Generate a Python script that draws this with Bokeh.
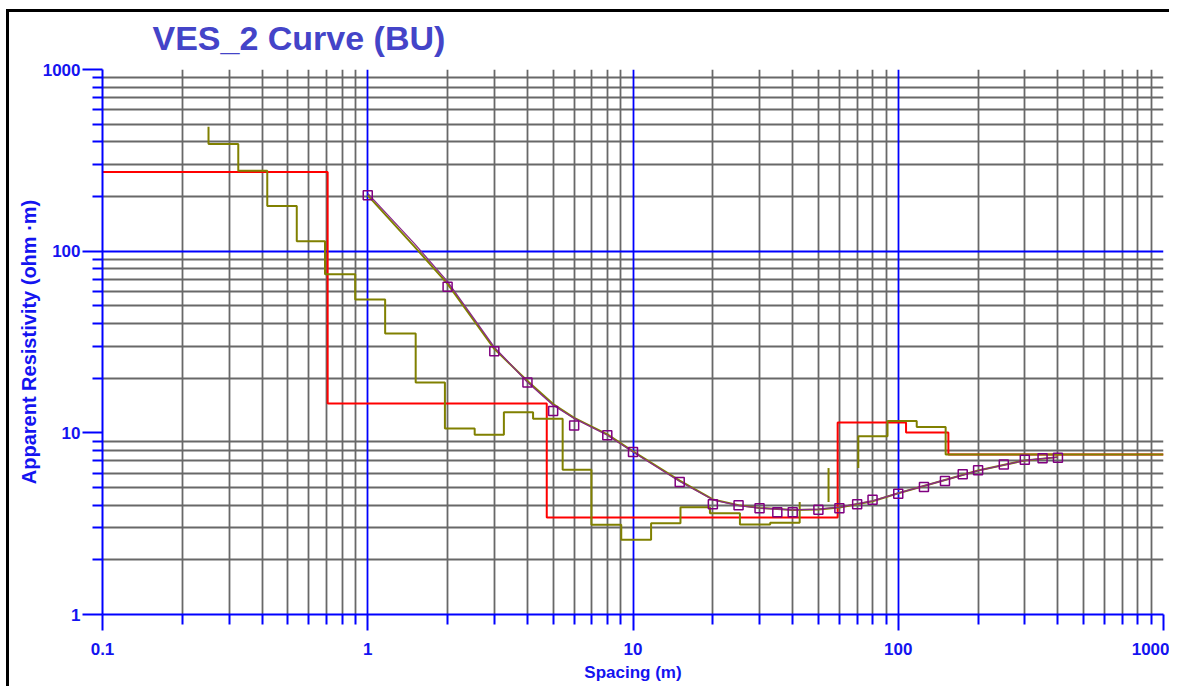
import numpy as np
from bokeh.plotting import figure
from bokeh.layouts import column
from bokeh.models import FixedTicker, Grid, Range1d
from bokeh.embed import file_html
from bokeh.resources import INLINE

TITLE = "VES_2 Curve (BU)"
X_LABEL = "Spacing (m)"
Y_LABEL = "Apparent Resistivity (ohm ·m)"

x_ticks = [0.1, 1, 10, 100, 1000]
x_tick_labels = ["0.1", "1", "10", "100", "1000"]
y_ticks = [1, 10, 100, 1000]
y_tick_labels = ["1", "10", "100", "1000"]

# observed field data (AB/2 spacing, apparent resistivity)
spacing = [1, 2, 3, 4, 5, 6, 8, 10, 15, 20, 25, 30, 35, 40, 50, 60, 70, 80,
           100, 125, 150, 175, 200, 250, 300, 350, 400]
rho_obs = [203, 63.6, 28.1, 18.9, 13.2, 10.96, 9.69, 7.84, 5.36, 4.04, 3.99,
           3.85, 3.66, 3.66, 3.77, 3.84, 4.04, 4.28, 4.62, 5.03, 5.43, 5.91,
           6.22, 6.7, 7.12, 7.25, 7.3]

# calculated (smooth) curves
calc_x = [1, 1.5, 2, 3, 4, 5, 6, 8, 10, 15, 20, 25, 30, 40, 50, 60, 80, 100,
          150, 200, 300, 400]
calc_rho_a = [203, 106, 66, 29, 19.3, 14.4, 12.1, 9.8, 7.9, 5.45, 4.3, 4.0,
              3.86, 3.76, 3.79, 3.88, 4.2, 4.65, 5.5, 6.2, 7.05, 7.35]
calc_rho_b = [208, 110, 68, 29.6, 19.0, 14.2, 12.0, 9.7, 7.85, 5.4, 4.28, 3.98,
              3.85, 3.77, 3.8, 3.9, 4.22, 4.66, 5.5, 6.2, 7.05, 7.35]

# layered model (red)
model_bounds = [0.1, 0.706, 4.73, 59.1, 107, 154.5, 1000]
model_rho = [273, 14.5, 3.42, 11.4, 10.05, 7.61]

# smoothed / multi-layer model (olive)
equiv_bounds = [0.251, 0.325, 0.418, 0.54, 0.69, 0.897, 1.163, 1.516, 1.954,
                2.53, 3.26, 4.20, 5.43, 6.97, 9.03, 11.7, 15.1, 19.5, 25.3,
                32.9, 42.5, 54.6, 70.7, 91.1, 117.4, 150.9, 1000]
equiv_rho = [484, 389, 277, 177, 113.5, 74.7, 54.2, 35.2, 18.9, 10.55, 9.77,
             13.0, 11.97, 6.27, 3.12, 2.58, 3.18, 3.89, 3.61, 3.13, 3.20,
             4.16, 6.4, 9.57, 11.6, 10.76, 7.61]
equiv_hidden_layers = [21, 22]

BLUE = "#0000FF"
TXT_BLUE = "#1414F0"
GRAY = "#686868"
SANS = "Liberation Sans"

p = figure(x_axis_type="log", y_axis_type="log",
           x_range=Range1d(0.1, 1000), y_range=Range1d(1, 1000),
           frame_width=1061, frame_height=545,
           output_backend="svg", toolbar_location=None,
           title=TITLE)
p.min_border = 0
p.min_border_left = 102
p.min_border_right = 6
p.min_border_top = 69
p.min_border_bottom = 72
p.outline_line_color = None
p.background_fill_color = "white"
p.border_fill_color = None

p.title.text_font = SANS
p.title.text_font_size = "34px"
p.title.text_font_style = "bold"
p.title.text_color = "#4444C8"
p.title.align = "left"
p.title.offset = 50
p.title.standoff = 25

# minor tick positions
x_minor = [m * d for d in [0.1, 1, 10, 100] for m in range(2, 10)]
y_minor = [m * d for d in [1, 10, 100] for m in range(2, 10)]

# axes
p.xaxis.ticker = FixedTicker(ticks=x_ticks, minor_ticks=x_minor)
p.yaxis.ticker = FixedTicker(ticks=y_ticks, minor_ticks=y_minor)
p.xaxis.major_label_overrides = {t: l for t, l in zip(x_ticks, x_tick_labels)}
p.yaxis.major_label_overrides = {t: l for t, l in zip(y_ticks, y_tick_labels)}
p.xaxis.axis_label = X_LABEL
p.yaxis.axis_label = Y_LABEL

for ax in (p.xaxis, p.yaxis):
    ax.axis_line_color = BLUE
    ax.axis_line_width = 2
    ax.major_tick_line_color = BLUE
    ax.minor_tick_line_color = BLUE
    ax.major_tick_line_width = 2
    ax.minor_tick_line_width = 2
    ax.major_tick_in = 0
    ax.minor_tick_in = 0
    ax.minor_tick_out = 10
    ax.major_label_text_font = SANS
    ax.major_label_text_font_style = "bold"
    ax.major_label_text_font_size = "17px"
    ax.major_label_text_color = TXT_BLUE
    ax.axis_label_text_font = SANS
    ax.axis_label_text_font_style = "bold"
    ax.axis_label_text_color = TXT_BLUE

p.xaxis.axis_label_text_font_size = "17px"
p.yaxis.axis_label_text_font_size = "20px"
p.xaxis.major_tick_out = 16
p.yaxis.major_tick_out = 20
p.xaxis.major_label_standoff = 12
p.yaxis.major_label_standoff = 2
p.xaxis.axis_label_standoff = 5
p.yaxis.axis_label_standoff = 0

# grids: gray minor, blue major
p.xgrid.ticker = FixedTicker(ticks=x_minor)
p.ygrid.ticker = FixedTicker(ticks=y_minor)
for g in (p.xgrid, p.ygrid):
    g.grid_line_color = GRAY
    g.grid_line_width = 1.8
p.add_layout(Grid(dimension=0, ticker=FixedTicker(ticks=[1, 10, 100, 1000]),
                  grid_line_color=BLUE, grid_line_width=1.8))
p.add_layout(Grid(dimension=1, ticker=FixedTicker(ticks=[100, 1000]),
                  grid_line_color=BLUE, grid_line_width=1.8))

# red layered model
mx, my = [], []
for i, r in enumerate(model_rho):
    mx += [model_bounds[i], model_bounds[i + 1]]
    my += [r, r]
p.line(mx, my, line_color="#FF0000", line_width=2)

# olive step model with gaps
segs_x, segs_y = [], []
cx, cy = [equiv_bounds[0]], [equiv_rho[0]]
for i in range(len(equiv_bounds) - 1):
    cx.append(equiv_bounds[i]); cy.append(equiv_rho[i + 1])
    if (i + 1) in equiv_hidden_layers:
        segs_x.append(cx); segs_y.append(cy)
        cx, cy = [equiv_bounds[i + 1]], [equiv_rho[i + 1]]
    else:
        cx.append(equiv_bounds[i + 1]); cy.append(equiv_rho[i + 1])
segs_x.append(cx); segs_y.append(cy)
p.multi_line(segs_x, segs_y, line_color="#808000", line_width=2)

# calculated curves
p.line(calc_x, calc_rho_a, line_color="#808000", line_width=2)
p.line(calc_x, calc_rho_b, line_color="#8a2a8a", line_width=1.3)

# observed points
p.scatter(spacing, rho_obs, marker="square", size=9, fill_color=None,
          line_color="#800080", line_width=1.5)

# outer black frame lines (left and top edges of the chart window)
layout = column(p, styles={
    "box-shadow": "inset 6px 9px 0 0 white, inset 9px 12px 0 0 black",
    "background-color": "white"})

open("out.html", "w").write(file_html(layout, INLINE))
